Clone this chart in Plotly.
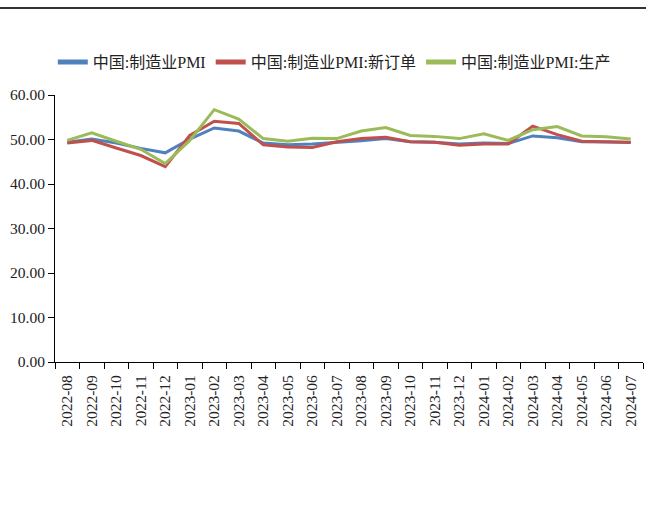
import plotly.graph_objects as go

months = ["2022-08","2022-09","2022-10","2022-11","2022-12","2023-01","2023-02","2023-03",
          "2023-04","2023-05","2023-06","2023-07","2023-08","2023-09","2023-10","2023-11",
          "2023-12","2024-01","2024-02","2024-03","2024-04","2024-05","2024-06","2024-07"]
pmi = [49.4,50.1,49.2,48.0,47.0,50.1,52.6,51.9,49.2,48.8,49.0,49.3,49.7,50.2,49.5,49.4,
       49.0,49.2,49.1,50.8,50.4,49.5,49.5,49.4]
new_orders = [49.2,49.8,48.1,46.4,43.9,50.9,54.1,53.6,48.8,48.3,48.2,49.5,50.2,50.5,49.5,49.4,
              48.7,49.0,49.0,53.0,51.1,49.6,49.5,49.3]
production = [49.8,51.5,49.6,47.8,44.6,49.8,56.7,54.6,50.2,49.6,50.3,50.2,51.9,52.7,50.9,50.7,
              50.2,51.3,49.8,52.2,52.9,50.8,50.6,50.1]
names = ["中国:制造业PMI", "中国:制造业PMI:新订单", "中国:制造业PMI:生产"]
colors = ["#4F81BD", "#C0504D", "#9BBB59"]

fig = go.Figure()
for name, vals, c in zip(names, [pmi, new_orders, production], colors):
    fig.add_trace(go.Scatter(x=months, y=vals, mode="lines", name=name,
                             line=dict(color=c, width=3)))

font_family = "Liberation Serif, Times New Roman, Noto Sans CJK SC, serif"
fig.update_layout(
    width=646, height=518,
    margin=dict(l=55, r=3, t=95, b=156, autoexpand=False),
    plot_bgcolor="white", paper_bgcolor="white",
    font=dict(family=font_family, size=15, color="#222222"),
    showlegend=True,
    legend=dict(orientation="h", x=0.475, xanchor="center", y=(362 - 62) / 267, yanchor="middle",
                font=dict(size=16), tracegroupgap=0, itemsizing="constant",
                bgcolor="rgba(0,0,0,0)"),
    xaxis=dict(type="category", showgrid=False, showline=True, linecolor="black", linewidth=1,
               ticks="outside", tickson="boundaries", ticklen=6, tickcolor="black",
               tickangle=-90, tickfont=dict(size=15.5, color="#222222"), range=[-0.5, 23.5],
               ticklabelstandoff=6, automargin=False),
    yaxis=dict(range=[0, 60], dtick=10, tickformat=".2f", showgrid=False, zeroline=False,
               showline=True, linecolor="black", linewidth=1, ticks="outside", ticklen=6,
               tickcolor="black", tickfont=dict(size=15.5, color="#222222"), automargin=False),
    shapes=[dict(type="line", xref="paper", yref="paper", x0=-0.2, x1=1.2,
                 y0=(362 - 8) / 267, y1=(362 - 8) / 267,
                 line=dict(color="#333333", width=2))],
)
fig.write_html("out.html", config={"displayModeBar": False},
               post_script="document.body.style.margin='0';document.body.style.overflow='hidden';")
